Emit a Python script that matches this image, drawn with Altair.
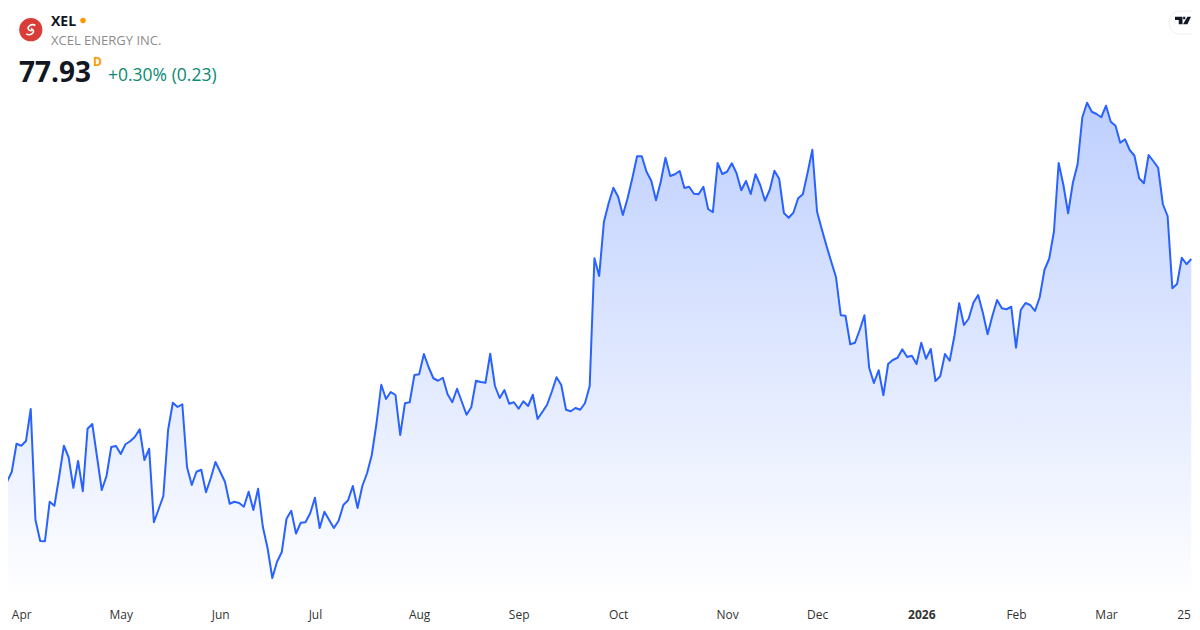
import json
import altair as alt
import pandas as pd

prices = [
    68.62, 69.02, 69.42, 70.54, 70.46, 70.65, 71.93, 67.49, 66.65, 66.64, 68.22, 68.06, 69.22,
    70.46, 70.00, 68.78, 69.85, 68.64, 71.14, 71.33, 70.01, 68.69, 69.25, 70.41, 70.45, 70.13,
    70.52, 70.64, 70.82, 71.12, 69.89, 70.34, 67.40, 67.92, 68.45, 71.09, 72.18, 72.01, 72.12,
    69.60, 68.89, 69.42, 69.50, 68.60, 69.16, 69.81, 69.42, 69.02, 68.14, 68.22, 68.17, 68.02,
    68.62, 67.89, 68.74, 67.22, 66.36, 65.17, 65.82, 66.21, 67.54, 67.86, 66.95,
    67.38, 67.40, 67.76, 68.38, 67.17, 67.82, 67.49, 67.17, 67.46, 68.09, 68.28, 68.85, 67.97,
    68.85, 69.36, 70.09, 71.36, 72.90, 72.33, 72.61, 72.49, 70.89, 72.16, 72.20, 73.29, 73.32,
    74.13, 73.60, 73.16, 73.06, 73.18, 72.52, 72.20, 72.74, 72.22, 71.70, 72.00, 73.06, 73.01,
    72.98, 74.14, 72.85, 72.37, 72.69, 72.14, 72.20, 71.94, 72.24, 72.05, 72.50, 71.53, 71.81,
    72.10, 72.62, 73.20, 72.89, 71.90, 71.84, 71.97, 71.90, 72.16, 72.85,
    77.96, 77.25, 79.41, 80.16, 80.78, 80.42, 79.69, 80.36, 81.16, 82.04, 82.04, 81.42, 81.06,
    80.28, 81.02, 81.98, 81.25, 81.32, 81.45, 80.77, 80.82, 80.54, 80.52, 80.82, 79.93, 79.80,
    81.77, 81.33, 81.42, 81.76, 81.36, 80.68, 81.05, 80.53, 81.32, 80.89, 80.26, 80.69, 81.46,
    81.14, 79.77, 79.58, 79.78, 80.36, 80.52, 81.38, 82.30, 79.82, 79.12, 78.45, 77.82, 77.20,
    75.68, 75.66, 74.52, 74.58, 75.09, 75.68, 73.58, 72.97, 73.48, 72.48,
    73.73, 73.89, 73.98, 74.32, 74.01, 74.06, 73.73, 74.58, 73.94, 74.33, 73.05, 73.24, 74.13,
    73.86, 74.86, 76.16, 75.29, 75.54, 76.18, 76.49, 75.78, 74.92, 75.65, 76.29, 75.96, 75.92,
    76.02, 74.38, 75.89, 76.17, 76.09, 75.85, 76.40, 77.49, 77.94, 79.02, 81.77, 80.89, 79.76,
    80.98, 81.72, 83.60, 84.18, 83.82, 83.73, 83.60, 84.06, 83.42, 83.26, 82.58, 82.72, 82.29,
    82.06, 81.16, 80.96, 82.09, 81.84, 81.58, 80.12, 79.65, 76.76, 76.93, 77.98, 77.72, 77.93,
]
tick_index = [4, 25, 46, 66, 88, 109, 130, 153, 172, 194, 214, 233, 250]
tick_text = ["Apr", "May", "Jun", "Jul", "Aug", "Sep", "Oct", "Nov", "Dec", "2026", "Feb", "Mar", "25"]
floor_price = 64.29
y_domain = [63.97, 87.97]
x_domain = [1.203, 251.15]

df = pd.DataFrame({"i": list(range(len(prices))), "price": prices, "base": floor_price})
label_map = json.dumps({str(k): v for k, v in zip(tick_index, tick_text)})

x = alt.X(
    "i:Q",
    scale=alt.Scale(domain=x_domain, nice=False, zero=False),
    axis=alt.Axis(
        values=tick_index,
        labelExpr=f"{label_map}[datum.value]",
        title=None,
        grid=False,
        domain=False,
        ticks=False,
        labelPadding=10.5,
        labelBaseline="alphabetic",
        labelOverlap=False,
        labelFlush=False,
        labelBound=False,
        labelColor="#333333",
        labelFontSize=12,
        labelFont="Open Sans",
        labelFontWeight={"condition": {"test": "datum.value == 194", "value": "bold"}, "value": "normal"},
        labelOffset={"condition": {"test": "datum.value == 250", "value": -3}, "value": 0},
    ),
)
y = alt.Y("price:Q", scale=alt.Scale(domain=y_domain, nice=False, zero=False), axis=None)

area = alt.Chart(df).mark_area(
    clip=True,
    line=False,
    color=alt.Gradient(
        gradient="linear",
        x1=0, x2=0, y1=0, y2=1,
        stops=[
            alt.GradientStop(offset=0, color="rgba(41,98,255,0.30)"),
            alt.GradientStop(offset=1, color="rgba(41,98,255,0.0)"),
        ],
    ),
).encode(x=x, y=y, y2="base:Q")

line = alt.Chart(df).mark_line(clip=True, color="#2962ff", strokeWidth=2, strokeJoin="round").encode(x=x, y=y)


def label(text, px, py, size, color, weight="normal", align="left", font="Open Sans"):
    return alt.Chart(pd.DataFrame({"t": [text]})).mark_text(
        align=align, baseline="alphabetic", fontSize=size, font=font, color=color, fontWeight=weight
    ).encode(x=alt.value(px - 8), y=alt.value(py - 8), text="t:N")


def glyph(px, py, shape, size, **kw):
    return alt.Chart(pd.DataFrame({"t": [0]})).mark_point(shape=shape, size=size, **kw).encode(
        x=alt.value(px - 8), y=alt.value(py - 8)
    )


swirl = "M0.6,-0.55C0.1,-0.9,-0.7,-0.3,-0.2,0.05C0.1,0.25,0.3,-0.1,0,-0.15M-0.6,0.55C-0.1,0.9,0.7,0.3,0.2,-0.05"
tv_logo = "M-1,-0.47L-0.06,-0.47L-0.06,0.47L-0.53,0.47L-0.53,-0.06L-1,-0.06ZM0.55,-0.47L1,-0.47L0.55,0.47L0,0.47ZM0.02,-0.47L0.28,-0.47L0.28,-0.15L0.02,-0.15Z"

pill = alt.Chart(pd.DataFrame({"t": [0]})).mark_rect(
    color="white", stroke="#eeeeee", strokeWidth=1, cornerRadius=11
).encode(
    x=alt.value(1169 - 8), x2=alt.value(1210 - 8), y=alt.value(11 - 8), y2=alt.value(34 - 8)
)

chart = alt.layer(
    area,
    line,
    glyph(30.8, 29.7, "circle", 540, filled=True, color="#d93d37", opacity=1),
    glyph(30.8, 29.7, swirl, 230, filled=False, color="white", strokeWidth=1.6, opacity=1),
    label("XEL", 51, 26, 14, "#131722", "bold"),
    glyph(83, 20.5, "circle", 30, filled=True, color="#ff9800", opacity=1),
    label("XCEL ENERGY INC.", 51, 45, 13, "#8c8c8c"),
    label("77.93", 19, 82, 28, "#131722", "bold"),
    label("D", 93, 66, 12, "#ff9800", "bold"),
    label("+0.30% (0.23)", 108, 81, 17.5, "#0b8a74"),
    pill,
    glyph(1183, 20.5, tv_logo, 256, filled=True, color="#131722", opacity=1, strokeWidth=0),
).properties(
    width=1184,
    height=600,
    padding={"left": 0, "top": 0, "right": 0, "bottom": 14},
    autosize=alt.AutoSizeParams(type="none"),
    background="white",
).configure_view(stroke=None)

chart.save("out.html", embed_options={"renderer": "svg", "actions": False})
